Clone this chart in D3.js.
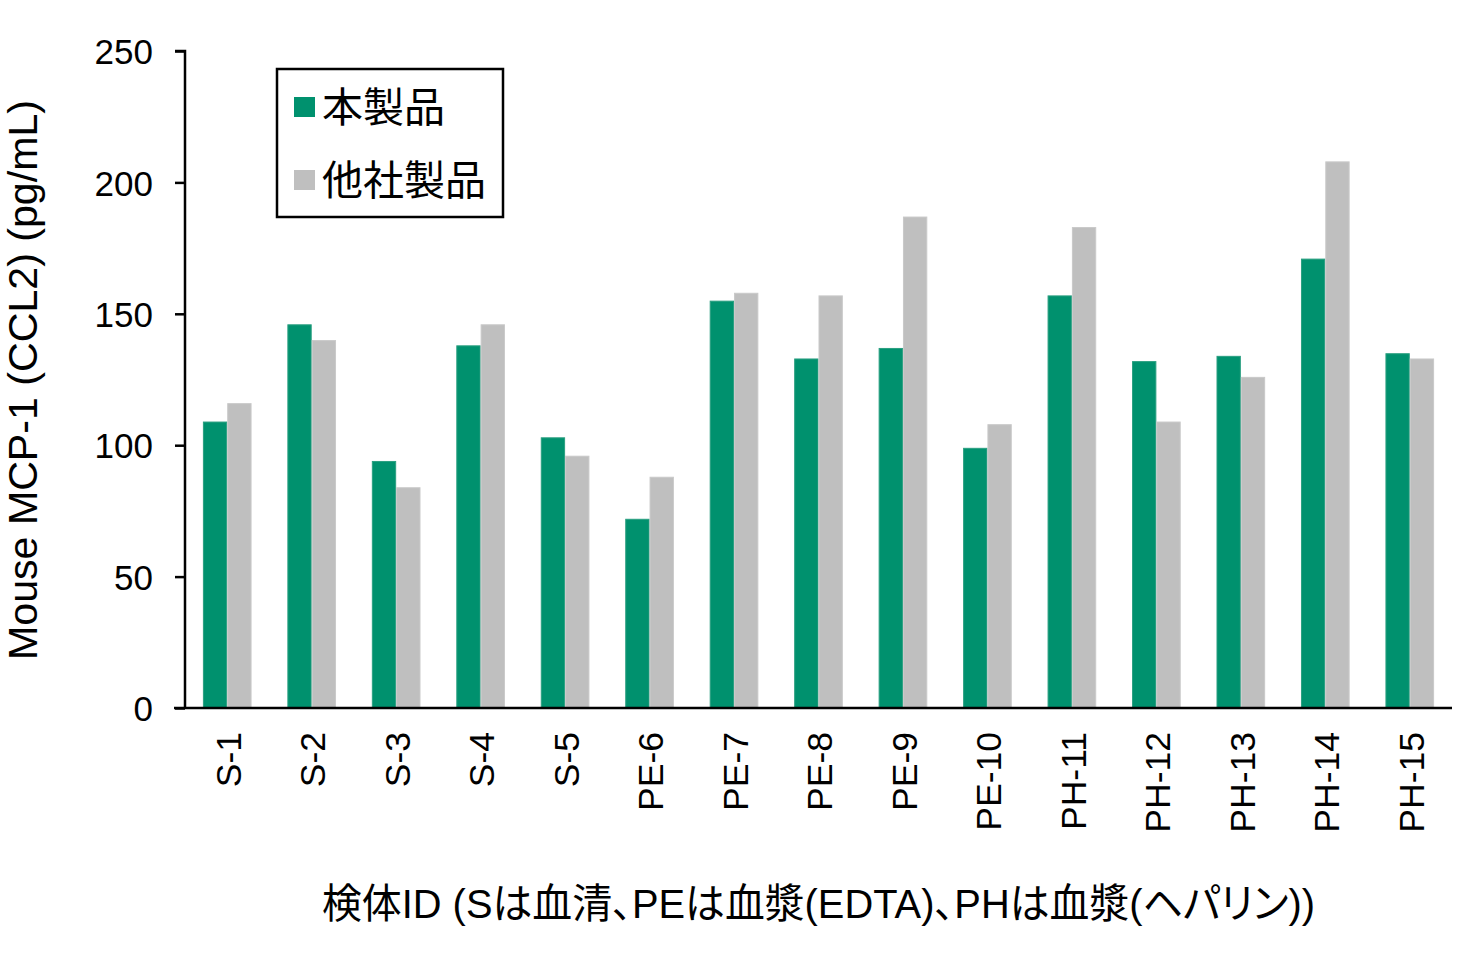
<!DOCTYPE html>
<html>
<head>
<meta charset="utf-8">
<script src="https://cdn.jsdelivr.net/npm/d3@7"></script>
<style>
    body { margin: 0; background: #fff; }
    text { font-family: "Liberation Sans", Arial, "Noto Sans CJK JP", sans-serif; fill: #000; }
    .cjk { font-family: "Noto Sans CJK JP", sans-serif; }
</style>
</head>
<body>
<svg id="chart" width="1460" height="955"></svg>
<script>
// sample ids along the x axis
const samples = ['S-1','S-2','S-3','S-4','S-5','PE-6','PE-7','PE-8','PE-9','PE-10','PH-11','PH-12','PH-13','PH-14','PH-15'];
// MCP-1 values (pg/mL)
const ownProduct   = [109, 146, 94, 138, 103, 72, 155, 133, 137, 99, 157, 132, 134, 171, 135];
const otherProduct = [116, 140, 84, 146, 96, 88, 158, 157, 187, 108, 183, 109, 126, 208, 133];
const seriesNames = ['本製品', '他社製品'];
const seriesColors = ['#00916E', '#BFBFBF'];
const seriesEdges = ['#2a9f80', '#c9c9c9'];
const yTicks = [0, 50, 100, 150, 200, 250];

const svg = d3.select('#chart');
const plotLeft = 185, plotRight = 1452, plotTop = 51, plotBottom = 708;

const rows = samples.map((s, i) => ({id: s, values: [ownProduct[i], otherProduct[i]]}));

const x = d3.scaleBand().domain(samples).range([plotLeft, plotRight]).paddingInner(0.424).paddingOuter(0.212);
const xSub = d3.scaleBand().domain([0, 1]).range([0, x.bandwidth()]);
const y = d3.scaleLinear().domain([0, 250]).range([plotBottom, plotTop]);

// bars
const groups = svg.append('g').selectAll('g')
    .data(rows).join('g')
    .attr('transform', d => `translate(${x(d.id)},0)`);
groups.selectAll('rect')
    .data(d => d.values.map((v, k) => ({k, v})))
    .join('rect')
    .attr('x', d => xSub(d.k) + 0.5)
    .attr('y', d => y(d.v) + 0.5)
    .attr('width', xSub.bandwidth() - 1)
    .attr('height', d => plotBottom - y(d.v) - 0.5)
    .attr('fill', d => seriesColors[d.k])
    .attr('stroke', d => seriesEdges[d.k])
    .attr('stroke-width', 1);

// y axis
const yAxis = svg.append('g')
    .attr('transform', `translate(${plotLeft},0)`)
    .call(d3.axisLeft(y).tickValues(yTicks).tickSize(10).tickPadding(22));
yAxis.select('.domain').attr('stroke', '#000').attr('stroke-width', 2.5).attr('d', `M-10,${plotTop}H0V${plotBottom}`);
yAxis.selectAll('.tick line').attr('stroke', '#000').attr('stroke-width', 2.5);
yAxis.selectAll('.tick text').style('font-size', '35px').attr('dy', '0.36em');

// x axis line, no ticks
svg.append('line')
    .attr('x1', plotLeft - 11).attr('x2', plotRight)
    .attr('y1', plotBottom).attr('y2', plotBottom)
    .attr('stroke', '#000').attr('stroke-width', 2.5);

// rotated sample labels
svg.append('g').selectAll('text')
    .data(samples).join('text')
    .attr('transform', d => `translate(${x(d) + x.bandwidth() / 2 + 1},732) rotate(-90)`)
    .attr('text-anchor', 'end')
    .attr('dy', '0.36em')
    .style('font-size', '35.5px')
    .text(d => d);

// axis titles
svg.append('text')
    .attr('transform', `translate(37,380) rotate(-90)`)
    .attr('text-anchor', 'middle')
    .attr('textLength', 560)
    .attr('lengthAdjust', 'spacingAndGlyphs')
    .style('font-size', '40px')
    .text('Mouse MCP-1 (CCL2) (pg/mL)');

svg.append('text')
    .attr('x', 322).attr('y', 918)
    .attr('textLength', 993)
    .attr('lengthAdjust', 'spacingAndGlyphs')
    .style('font-size', '41px')
    .style('font-feature-settings', '"palt"')
    .text('検体ID (Sは血清、PEは血漿(EDTA)、PHは血漿(ヘパリン))');

// legend
const legend = svg.append('g');
legend.append('rect')
    .attr('x', 277).attr('y', 69).attr('width', 226).attr('height', 148)
    .attr('fill', '#fff').attr('stroke', '#000').attr('stroke-width', 2.5);
seriesNames.forEach((name, k) => {
    const cy = 107 + k * 73;
    legend.append('rect')
        .attr('x', 294).attr('y', cy - 10).attr('width', 21).attr('height', 20)
        .attr('fill', seriesColors[k]);
    legend.append('text')
        .attr('class', 'cjk')
        .attr('x', 322).attr('y', cy)
        .attr('dy', '0.36em')
        .style('font-size', '41px')
        .text(name);
});
</script>
</body>
</html>
